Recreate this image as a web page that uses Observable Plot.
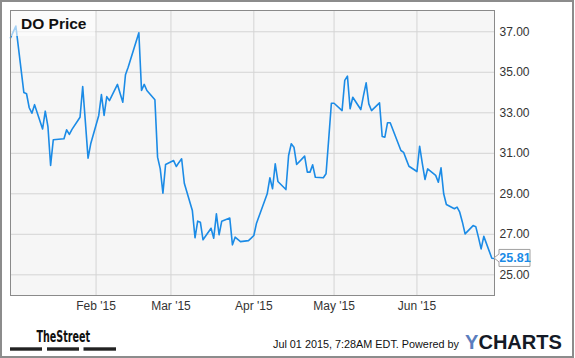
<!DOCTYPE html>
<html>
<head>
<meta charset="utf-8">
<script src="https://cdn.jsdelivr.net/npm/d3@7"></script>
<script src="https://cdn.jsdelivr.net/npm/@observablehq/plot@0.6"></script>
<style>
  html, body { margin: 0; padding: 0; background: #fff; }
  #wrap { position: relative; width: 575px; height: 358px; overflow: hidden; font-family: "Liberation Sans", Arial, sans-serif; }
  #outer { position: absolute; left: 0; top: 0; width: 574px; height: 358px; box-sizing: border-box; border: 2px solid #8c8c8c; pointer-events: none; }
  #titlebg { position: absolute; left: 11px; top: 11px; width: 84px; height: 25px; background: rgba(255,255,255,0.6); }
  #title { position: absolute; left: 21px; top: 14.5px; font-weight: bold; font-size: 15.5px; color: #111; line-height: normal; }
</style>
</head>
<body>
<div id="wrap">
  <div id="chart"></div>
  <div id="titlebg"></div>
  <div id="title">DO Price</div>
  <svg id="footer" width="575" height="38" style="position:absolute;left:0;top:320px">
    <text x="36.5" y="21.7" textLength="53.5" lengthAdjust="spacingAndGlyphs" font-family="'DejaVu Sans Condensed','Liberation Sans Narrow',sans-serif" font-weight="bold" font-size="16" fill="#111">TheStreet</text>
    <rect x="10" y="27.3" width="32" height="3.4" fill="#222"></rect>
    <rect x="47" y="27.3" width="32" height="3.4" fill="#222"></rect>
    <rect x="83.5" y="27.3" width="32.5" height="3.4" fill="#222"></rect>
    <text x="273" y="27.7" textLength="186" lengthAdjust="spacingAndGlyphs" font-family="'Liberation Sans',Arial,sans-serif" font-size="10.5" fill="#111">Jul 01 2015, 7:28AM EDT.  Powered by</text>
    <text x="465" y="29" textLength="97" lengthAdjust="spacingAndGlyphs" font-family="'Liberation Sans',Arial,sans-serif" font-weight="bold" font-size="19.5"><tspan fill="#5b7dbd">Y</tspan><tspan fill="#141a26">CHARTS</tspan></text>
  </svg>
  <div id="outer"></div>
</div>
<script>
const dates = [
  "2014-12-31","2015-01-02","2015-01-05","2015-01-06","2015-01-07","2015-01-08","2015-01-09",
  "2015-01-12","2015-01-13","2015-01-14","2015-01-15","2015-01-16","2015-01-20","2015-01-21",
  "2015-01-22","2015-01-23","2015-01-26","2015-01-27","2015-01-28","2015-01-29","2015-01-30",
  "2015-02-02","2015-02-03","2015-02-04","2015-02-05","2015-02-06","2015-02-09","2015-02-10",
  "2015-02-11","2015-02-12","2015-02-13","2015-02-17","2015-02-18","2015-02-19","2015-02-20",
  "2015-02-23","2015-02-24","2015-02-25","2015-02-26","2015-02-27","2015-03-02","2015-03-03",
  "2015-03-04","2015-03-05","2015-03-06","2015-03-09","2015-03-10","2015-03-11","2015-03-12",
  "2015-03-13","2015-03-16","2015-03-17","2015-03-18","2015-03-19","2015-03-20","2015-03-23",
  "2015-03-24","2015-03-25","2015-03-26","2015-03-27","2015-03-30","2015-03-31","2015-04-01",
  "2015-04-02","2015-04-06","2015-04-07","2015-04-08","2015-04-09","2015-04-10","2015-04-13",
  "2015-04-14","2015-04-15","2015-04-16","2015-04-17","2015-04-20","2015-04-21","2015-04-22",
  "2015-04-23","2015-04-24","2015-04-27","2015-04-28","2015-04-29","2015-04-30","2015-05-01",
  "2015-05-04","2015-05-05","2015-05-06","2015-05-07","2015-05-08","2015-05-11","2015-05-12",
  "2015-05-13","2015-05-14","2015-05-15","2015-05-18","2015-05-19","2015-05-20","2015-05-21",
  "2015-05-22","2015-05-26","2015-05-27","2015-05-28","2015-05-29","2015-06-01","2015-06-02",
  "2015-06-03","2015-06-04","2015-06-05","2015-06-08","2015-06-09","2015-06-10","2015-06-11",
  "2015-06-12","2015-06-15","2015-06-16","2015-06-17","2015-06-18","2015-06-19","2015-06-22",
  "2015-06-23","2015-06-24","2015-06-25","2015-06-26","2015-06-29","2015-06-30"
];
const prices = [
  36.70,37.28,34.00,33.94,33.25,32.98,33.40,
  32.20,33.08,32.32,30.40,31.67,31.72,32.16,
  31.93,32.18,32.78,34.30,32.55,30.76,31.47,
  32.87,33.90,32.87,33.80,33.60,34.40,33.95,
  33.52,34.88,35.25,36.95,34.10,34.40,34.10,
  33.64,30.81,30.23,29.03,30.45,30.64,30.35,
  30.55,30.73,29.52,28.18,26.83,27.65,27.60,
  26.73,27.30,26.81,28.01,26.98,27.65,27.80,
  26.48,26.86,26.75,26.64,26.69,26.81,26.94,
  27.55,29.00,29.79,29.25,30.48,29.61,29.21,
  30.89,31.47,31.30,30.45,30.86,30.07,30.07,
  30.43,29.82,29.79,29.99,31.70,33.47,33.47,
  33.11,34.60,34.81,33.20,33.77,33.16,33.85,
  34.48,33.44,33.11,33.49,31.83,31.80,32.51,
  32.51,31.14,31.05,30.70,30.36,30.10,31.35,
  30.50,29.71,30.23,29.91,29.57,30.28,29.00,
  28.47,28.26,28.34,28.09,27.60,27.02,27.43,
  27.38,26.85,26.28,26.90,25.82,25.81
];
const yTicks = [25, 27, 29, 31, 33, 35, 37];
const xTicks = ["2015-02-01","2015-03-01","2015-04-01","2015-05-01","2015-06-01"];
const xDomain = ["2014-12-31","2015-06-30"];
const yDomain = [23.98, 38.05];
const lastLabel = "25.81";

const data = dates.map((d, i) => ({date: new Date(d), price: prices[i]}));
const lineColor = "#1b8be6";

const chart = Plot.plot({
  width: 575,
  height: 358,
  marginLeft: 10,
  marginTop: 10,
  marginRight: 81,
  marginBottom: 63,
  style: {fontFamily: "'Liberation Sans', Arial, sans-serif", fontSize: "12px", color: "#333", background: "transparent", overflow: "visible"},
  x: {type: "utc", domain: xDomain.map(d => new Date(d))},
  y: {domain: yDomain},
  marks: [
    Plot.frame({fill: "#f6f6f6", stroke: "none"}),
    Plot.gridY(yTicks, {stroke: "#d4d4d4", strokeOpacity: 1, strokeWidth: 1}),
    Plot.gridX(xTicks.map(d => new Date(d)), {stroke: "#d4d4d4", strokeOpacity: 1, strokeWidth: 1}),
    Plot.axisY(yTicks, {anchor: "right", tickSize: 0, tickPadding: 5, tickFormat: d => d.toFixed(2), label: null, fill: "#333"}),
    Plot.axisX(xTicks.map(d => new Date(d)), {anchor: "bottom", tickSize: 0, tickPadding: 6, tickFormat: d3.utcFormat("%b '%y"), label: null, fill: "#333"}),
    Plot.line(data, {x: "date", y: "price", stroke: lineColor, strokeWidth: 1.6}),
    Plot.frame({stroke: "#8a8a8a", strokeWidth: 1})
  ]
});
document.getElementById("chart").appendChild(chart);

// last-value callout
const last = data[data.length - 1];
const px = chart.scale("x").apply(last.date);
const py = chart.scale("y").apply(last.price);
const svg = d3.select(chart);
const g = svg.append("g");
const bx0 = px + 5, bx1 = px + 36, h = 8.5;
g.append("path")
  .attr("d", `M${bx0},${py - h}H${bx1}V${py + h}H${bx0}V${py + 4}L${px},${py}L${bx0},${py - 4}Z`)
  .attr("fill", "#fff").attr("stroke", "#a0a0a0").attr("stroke-width", 1);
g.append("text")
  .attr("x", (bx0 + bx1) / 2 + 0.5).attr("y", py).attr("dy", "0.35em")
  .attr("text-anchor", "middle").attr("font-weight", "bold").attr("font-size", 12.5)
  .attr("fill", lineColor).text(lastLabel);
</script>
</body>
</html>
